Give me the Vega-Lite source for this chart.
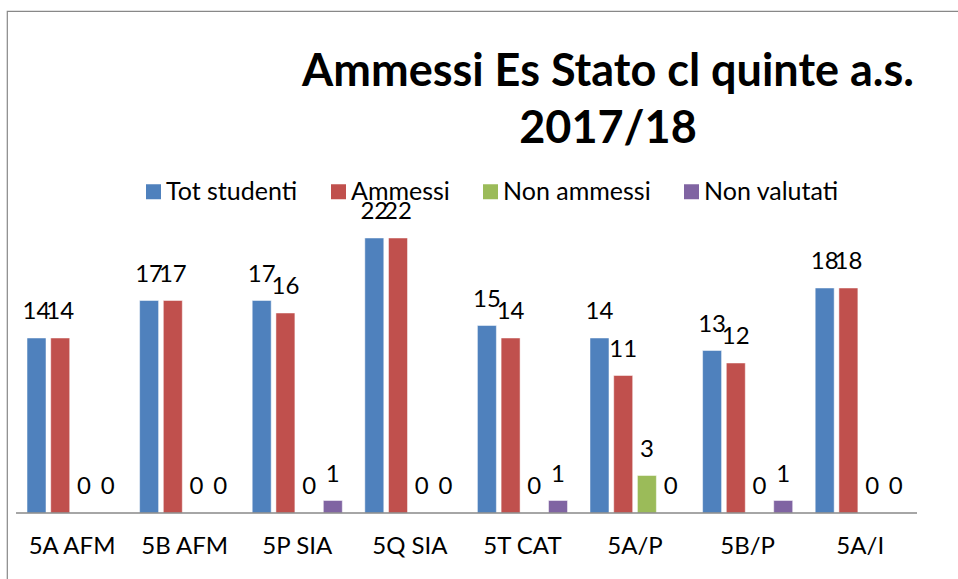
{
  "$schema": "https://vega.github.io/schema/vega-lite/v6.json",
  "autosize": {"type": "none"},
  "width": 960,
  "height": 589,
  "padding": {"left": 7, "top": 11, "right": 0, "bottom": 0},
  "background": "white",
  "config": {
    "view": {"stroke": "#888888", "strokeWidth": 1.2},
    "font": "Lato"
  },
  "title": {
    "text": ["Ammessi Es Stato cl quinte a.s.", "2017/18"],
    "font": "Lato",
    "fontSize": 45,
    "fontWeight": "bold",
    "color": "black",
    "anchor": "middle",
    "frame": "group",
    "dx": 121,
    "offset": -177,
    "baseline": "alphabetic",
    "lineHeight": 57
  },
  "data": {
    "values": [
      {"classe": "5A AFM", "serie": "Tot studenti", "valore": 14},
      {"classe": "5A AFM", "serie": "Ammessi", "valore": 14},
      {"classe": "5A AFM", "serie": "Non ammessi", "valore": 0},
      {"classe": "5A AFM", "serie": "Non valutati", "valore": 0},
      {"classe": "5B AFM", "serie": "Tot studenti", "valore": 17},
      {"classe": "5B AFM", "serie": "Ammessi", "valore": 17},
      {"classe": "5B AFM", "serie": "Non ammessi", "valore": 0},
      {"classe": "5B AFM", "serie": "Non valutati", "valore": 0},
      {"classe": "5P SIA", "serie": "Tot studenti", "valore": 17},
      {"classe": "5P SIA", "serie": "Ammessi", "valore": 16},
      {"classe": "5P SIA", "serie": "Non ammessi", "valore": 0},
      {"classe": "5P SIA", "serie": "Non valutati", "valore": 1},
      {"classe": "5Q SIA", "serie": "Tot studenti", "valore": 22},
      {"classe": "5Q SIA", "serie": "Ammessi", "valore": 22},
      {"classe": "5Q SIA", "serie": "Non ammessi", "valore": 0},
      {"classe": "5Q SIA", "serie": "Non valutati", "valore": 0},
      {"classe": "5T CAT", "serie": "Tot studenti", "valore": 15},
      {"classe": "5T CAT", "serie": "Ammessi", "valore": 14},
      {"classe": "5T CAT", "serie": "Non ammessi", "valore": 0},
      {"classe": "5T CAT", "serie": "Non valutati", "valore": 1},
      {"classe": "5A/P", "serie": "Tot studenti", "valore": 14},
      {"classe": "5A/P", "serie": "Ammessi", "valore": 11},
      {"classe": "5A/P", "serie": "Non ammessi", "valore": 3},
      {"classe": "5A/P", "serie": "Non valutati", "valore": 0},
      {"classe": "5B/P", "serie": "Tot studenti", "valore": 13},
      {"classe": "5B/P", "serie": "Ammessi", "valore": 12},
      {"classe": "5B/P", "serie": "Non ammessi", "valore": 0},
      {"classe": "5B/P", "serie": "Non valutati", "valore": 1},
      {"classe": "5A/I", "serie": "Tot studenti", "valore": 18},
      {"classe": "5A/I", "serie": "Ammessi", "valore": 18},
      {"classe": "5A/I", "serie": "Non ammessi", "valore": 0},
      {"classe": "5A/I", "serie": "Non valutati", "valore": 0}
    ]
  },
  "encoding": {
    "x": {
      "field": "classe",
      "type": "nominal",
      "sort": null,
      "scale": {"paddingInner": 0.2, "paddingOuter": 0.363, "align": 0.245},
      "axis": null
    }
  },
  "layer": [
    {
      "mark": {"type": "bar", "stroke": "white", "strokeOpacity": 0.6, "strokeWidth": 0.8},
      "encoding": {
        "xOffset": {
          "field": "serie",
          "type": "nominal",
          "sort": ["Tot studenti", "Ammessi", "Non ammessi", "Non valutati"],
          "scale": {"paddingInner": 0.2, "paddingOuter": 0}
        },
        "y": {
          "field": "valore",
          "type": "quantitative",
          "scale": {"domain": [-6.96, 40.16], "nice": false, "zero": false},
          "axis": null
        },
        "color": {
          "field": "serie",
          "type": "nominal",
          "sort": ["Tot studenti", "Ammessi", "Non ammessi", "Non valutati"],
          "scale": {
            "domain": ["Tot studenti", "Ammessi", "Non ammessi", "Non valutati"],
            "range": ["#4F81BD", "#C0504D", "#9BBB59", "#8064A2"]
          },
          "legend": {
            "title": null,
            "orient": "none",
            "direction": "horizontal",
            "legendX": 134,
            "legendY": 168,
            "padding": 0,
            "symbolType": "square",
            "symbolSize": 225,
            "symbolStrokeWidth": 0,
            "labelFont": "Lato",
            "labelFontSize": 25,
            "labelColor": "black",
            "labelOffset": 0,
            "labelLimit": 300,
            "columnPadding": 28
          }
        }
      }
    },
    {
      "mark": {"type": "text", "font": "Lato", "fontSize": 24, "color": "black", "baseline": "alphabetic", "dy": -19},
      "encoding": {
        "xOffset": {
          "field": "serie",
          "type": "nominal",
          "sort": ["Tot studenti", "Ammessi", "Non ammessi", "Non valutati"]
        },
        "y": {"field": "valore", "type": "quantitative"},
        "text": {"field": "valore", "type": "quantitative"}
      }
    },
    {
      "transform": [{"filter": "datum.serie === 'Tot studenti'"}],
      "mark": {"type": "text", "font": "Lato", "fontSize": 24, "color": "black", "baseline": "middle"},
      "encoding": {
        "y": {"datum": -2.72},
        "text": {"field": "classe", "type": "nominal"}
      }
    },
    {
      "data": {"values": [{"a": "5A AFM", "b": "5A/I"}]},
      "mark": {"type": "rule", "color": "#888888", "strokeWidth": 1.5},
      "encoding": {
        "x": {"datum": "5A AFM", "bandPosition": -0.122},
        "x2": {"datum": "5A/I", "bandPosition": 1.13},
        "y": {"datum": 0}
      }
    }
  ]
}
